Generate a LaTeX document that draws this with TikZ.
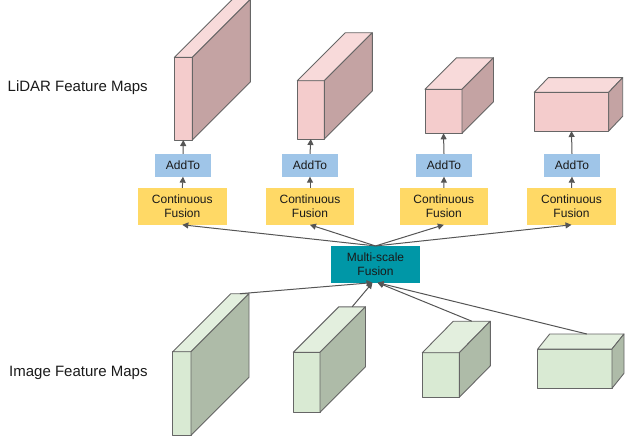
\documentclass[tikz,border=0pt]{standalone}
\usepackage{fontspec}
\setmainfont{Liberation Sans}
\usetikzlibrary{arrows.meta,calc}
\definecolor{pinkfront}{HTML}{F4CCCC}
\definecolor{pinktop}{HTML}{F8DADA}
\definecolor{pinkside}{HTML}{C4A3A3}
\definecolor{greenfront}{HTML}{D9EAD3}
\definecolor{greentop}{HTML}{E3EFDE}
\definecolor{greenside}{HTML}{AEBBA8}
\definecolor{edgegray}{HTML}{666666}
\definecolor{arrowgray}{HTML}{555555}
\definecolor{addblue}{HTML}{9FC5E8}
\definecolor{cfyellow}{HTML}{FFD966}
\definecolor{msfteal}{HTML}{0097A7}
\definecolor{txt}{HTML}{1A1A1A}
\tikzset{
  edge/.style={draw=edgegray, line width=0.9pt, line join=round},
  facebox/.style={edge, rectangle, inner sep=0pt, outer sep=0pt},
  opbox/.style={rectangle, inner sep=0pt, outer sep=0pt, text=txt, align=center,
    font=\fontsize{12pt}{13.5pt}\selectfont},
  addto/.style={opbox, fill=addblue, minimum width=56pt, minimum height=22.7pt},
  cfus/.style={opbox, fill=cfyellow, minimum width=88.5pt, minimum height=37pt},
  msf/.style={opbox, fill=msfteal, text=black!90, minimum width=89pt, minimum height=36.7pt},
  conn/.style={draw=arrowgray, line width=1pt, -{Triangle[length=6pt,width=6pt]}},
  maplabel/.style={text=txt, font=\fontsize{15pt}{17pt}\selectfont, anchor=west, inner sep=0pt}
}
% name, cx, cy, w, h, dx, dy, colour prefix
\newcommand\cuboid[8]{%
  \node[facebox, fill=#8front, minimum width=#4pt, minimum height=#5pt] (#1) at (#2,#3) {};
  \draw[edge, fill=#8top] (#1.north west) -- ++(#6,-#7) -- ++(#4,0) -- (#1.north east) -- cycle;
  \draw[edge, fill=#8side] (#1.north east) -- ++(#6,-#7) -- ++(0,#5) -- (#1.south east) -- cycle;
  \coordinate (#1back) at ($(#1.north)+(#6,-#7)$);
}
\begin{document}
\begin{tikzpicture}[x=1pt,y=-1pt]
\useasboundingbox (0,0) rectangle (626,440);

% labels
\node[maplabel] (lidarlab) at (7.5,88) {LiDAR Feature Maps};
\node[maplabel] (imglab) at (9,373) {Image Feature Maps};

% LiDAR feature maps
\cuboid{L1}{183.3}{98.7}{18}{82.7}{58}{58}{pink}
\cuboid{L2}{310.8}{109.85}{27}{58.3}{48}{48}{pink}
\cuboid{L3}{443.5}{111.3}{37}{44}{31.5}{31.5}{pink}
\cuboid{L4}{571.5}{111.65}{74.4}{38.7}{14}{14.7}{pink}

% Image feature maps
\cuboid{I1}{181.85}{393.5}{18.3}{83.6}{58}{58}{green}
\cuboid{I2}{306.65}{382.3}{26.7}{60}{45.5}{45.5}{green}
\cuboid{I3}{440.8}{375}{37}{44.6}{31}{31.5}{green}
\cuboid{I4}{574.85}{368.65}{74.3}{39.3}{12}{15}{green}

% AddTo boxes
\node[addto] (A1) at (183,165.3) {AddTo};
\node[addto] (A2) at (310,165.3) {AddTo};
\node[addto] (A3) at (444,165.3) {AddTo};
\node[addto] (A4) at (572,165.3) {AddTo};

% Continuous fusion boxes
\node[cfus] (C1) at (182.3,206.3) {Continuous\\Fusion};
\node[cfus] (C2) at (310,206.3) {Continuous\\Fusion};
\node[cfus] (C3) at (443.8,206.3) {Continuous\\Fusion};
\node[cfus] (C4) at (571.5,206.3) {Continuous\\Fusion};

% Multi-scale fusion
\node[msf] (M) at (375.5,264.3) {Multi-scale\\Fusion};

% arrows CF -> AddTo -> LiDAR
\foreach \i in {1,2,3,4}{
  \draw[conn] (C\i.north) -- (A\i.south);
  \draw[conn] (A\i.north) -- (L\i.south);
  \draw[conn] (M.north) -- (C\i.south);
}

% arrows image maps -> MSF
\draw[conn] (I1back) -- ([xshift=-3pt]M.south);
\draw[conn] (I2back) -- ([xshift=-3pt]M.south);
\draw[conn] (I3back) -- ([xshift=2pt]M.south);
\draw[conn] (I4back) -- ([xshift=2pt]M.south);
\end{tikzpicture}
\end{document}
